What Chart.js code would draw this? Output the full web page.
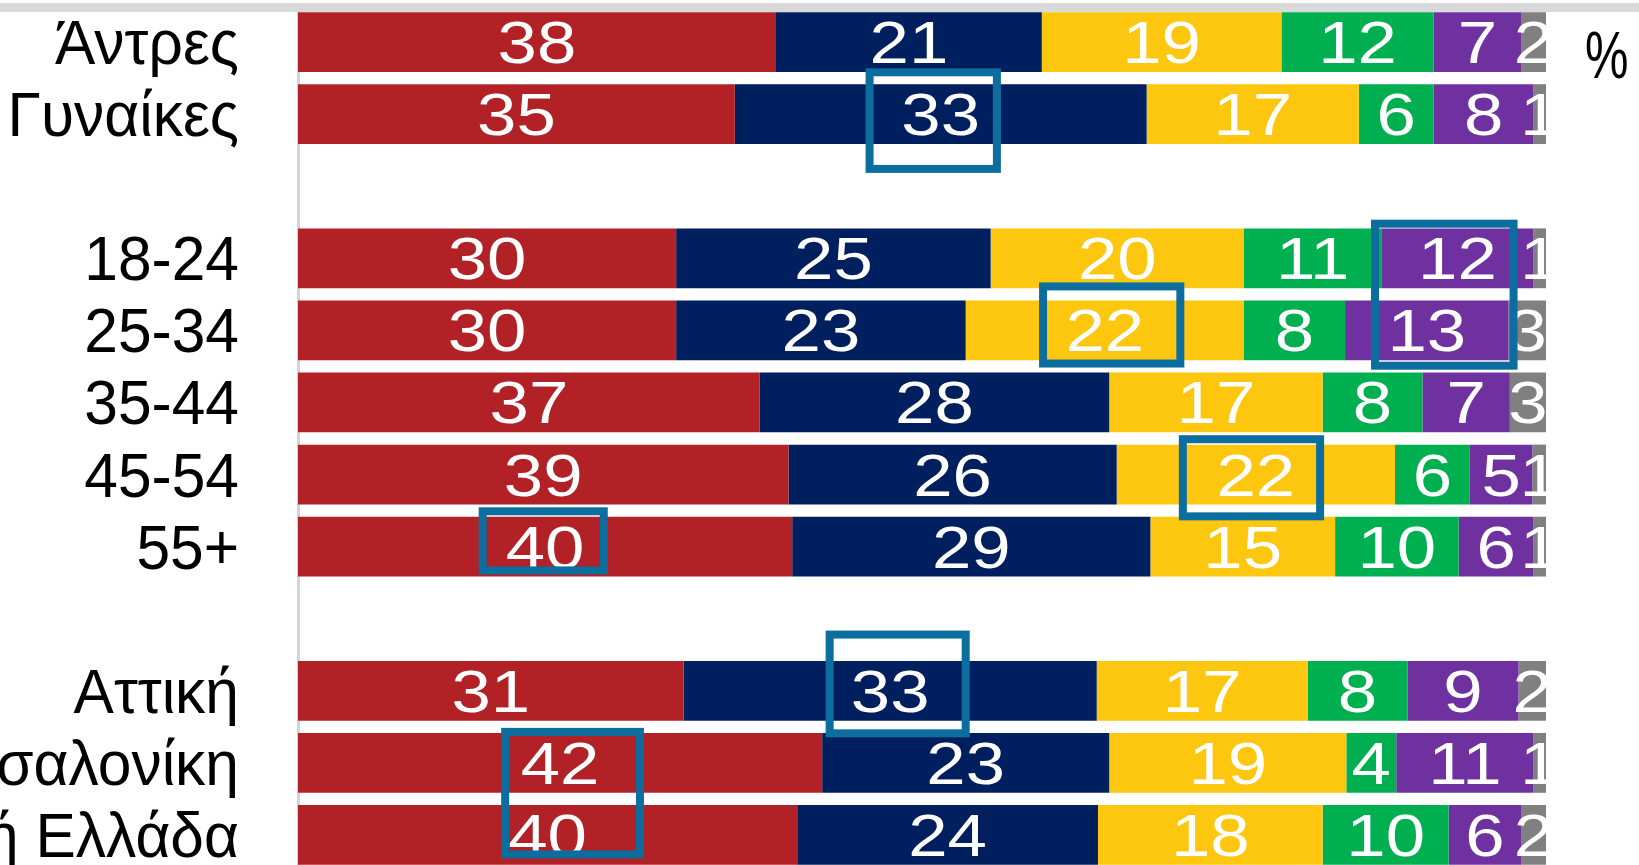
<!DOCTYPE html>
<html>
<head>
<meta charset="utf-8">
<script src="https://cdn.jsdelivr.net/npm/chart.js@4.4.0/dist/chart.umd.min.js"></script>
<style>
  html, body { margin: 0; padding: 0; overflow: hidden; background: #fff; }
  #wrap { position: relative; width: 1639px; height: 871px; }
  #topline { position: absolute; left: 0; top: 3px; width: 1639px; height: 9px; background: #d9d9d9; z-index: 2; }
  canvas { position: absolute; left: 0; top: 0; }
</style>
</head>
<body>
<div id="wrap">
  <div id="topline"></div>
  <canvas id="shares" width="1639" height="871"></canvas>
</div>
<script>
// rows of the chart, '' = empty spacer row
const categories = ["Άντρες", "Γυναίκες", "", "18-24", "25-34", "35-44", "45-54", "55+", "", "Αττική", "Θεσσαλονίκη", "Λοιπή Ελλάδα"];

// shares in % (bar widths, labels are rounded)
const red    = [38.3, 35.0, null, 30.3, 30.3, 37.0, 39.3, 39.6, null, 30.9, 42.0, 40.0];
const navy   = [21.3, 33.0, null, 25.2, 23.2, 28.0, 26.3, 28.7, null, 33.1, 23.0, 24.1];
const yellow = [19.2, 17.0, null, 20.3, 22.3, 17.1, 22.3, 14.8, null, 16.9, 19.0, 18.0];
const green  = [12.2, 6.0, null, 11.0, 8.1, 8.0, 6.0, 9.9, null, 8.0, 4.0, 10.1];
const purple = [7.0, 8.0, null, 12.2, 13.1, 7.0, 5.0, 6.0, null, 8.9, 11.0, 5.8];
const grey   = [2.0, 1.0, null, 1.0, 3.0, 2.9, 1.1, 1.0, null, 2.2, 1.0, 2.0];

const seriesColours = ["#B12126", "#001F5E", "#FDC70F", "#00AF50", "#7031A0", "#808080"];
const unitLabel = "%";

// highlight boxes: x in % of the axis, y in row index
const highlights = [
  { x0: 45.8, x1: 56.0, y0: 0.42, y1: 1.76 },
  { x0: 86.3, x1: 97.4, y0: 2.52, y1: 4.49 },
  { x0: 59.7, x1: 70.7, y0: 3.39, y1: 4.46 },
  { x0: 70.9, x1: 81.9, y0: 5.51, y1: 6.58 },
  { x0: 14.8, x1: 24.5, y0: 6.51, y1: 7.33 },
  { x0: 42.6, x1: 53.5, y0: 8.22, y1: 9.59 },
  { x0: 16.6, x1: 27.4, y0: 9.57, y1: 11.27 },
];

const numberFont = '60px "Liberation Sans", Arial, sans-serif';
const labelFont = '63px "Liberation Sans", Arial, sans-serif';

const barText = {
  id: "barText",
  afterDatasetsDraw(chart) {
    const { ctx, chartArea } = chart;
    ctx.save();
    ctx.beginPath();
    ctx.rect(chartArea.left, chartArea.top, chartArea.right - chartArea.left, chartArea.bottom - chartArea.top);
    ctx.clip();
    ctx.font = numberFont;
    ctx.fillStyle = "#fff";
    ctx.textAlign = "center";
    ctx.textBaseline = "alphabetic";
    chart.data.datasets.forEach((ds, i) => {
      chart.getDatasetMeta(i).data.forEach((bar, j) => {
        const v = ds.data[j];
        if (v === null) return;
        ctx.save();
        ctx.translate((bar.x + bar.base) / 2, bar.y + 21);
        ctx.scale(1.18, 1);
        ctx.fillText(Math.round(v), 0, 0);
        ctx.restore();
      });
    });
    ctx.restore();
  },
};

const rowLabels = {
  id: "rowLabels",
  afterDraw(chart) {
    const { ctx, chartArea, scales } = chart;
    ctx.save();
    ctx.font = labelFont;
    ctx.fillStyle = "#000";
    ctx.textAlign = "right";
    ctx.textBaseline = "alphabetic";
    categories.forEach((c, i) => {
      if (!c) return;
      ctx.save();
      ctx.translate(chartArea.left - 59, scales.y.getPixelForValue(i) + 22);
      ctx.scale(0.96, 1);
      ctx.fillText(c, 0, 0);
      ctx.restore();
    });
    // unit label top right
    ctx.save();
    ctx.font = '66px "Liberation Sans", Arial, sans-serif';
    ctx.textAlign = "left";
    ctx.translate(chartArea.right + 39, 78);
    ctx.scale(0.74, 1);
    ctx.fillText(unitLabel, 0, 0);
    ctx.restore();

    // highlight boxes
    ctx.strokeStyle = "#0B6E9E";
    ctx.lineWidth = 8;
    highlights.forEach((h) => {
      const x0 = scales.x.getPixelForValue(h.x0);
      const x1 = scales.x.getPixelForValue(h.x1);
      const y0 = scales.y.getPixelForValue(h.y0);
      const y1 = scales.y.getPixelForValue(h.y1);
      ctx.strokeRect(x0, y0, x1 - x0, y1 - y0);
    });
    ctx.restore();
  },
};

const series = [red, navy, yellow, green, purple, grey];

new Chart(document.getElementById("shares"), {
  type: "bar",
  data: {
    labels: categories,
    datasets: series.map((d, i) => ({
      label: "s" + (i + 1),
      data: d,
      backgroundColor: seriesColours[i],
      borderWidth: 0,
      barPercentage: 1,
      categoryPercentage: 0.83,
    })),
  },
  options: {
    indexAxis: "y",
    responsive: false,
    animation: false,
    devicePixelRatio: 1,
    layout: { padding: { top: 6, right: 93, bottom: 0, left: 0 } },
    plugins: { legend: { display: false }, tooltip: { enabled: false } },
    scales: {
      x: { stacked: true, min: 0, max: 100, display: false },
      y: {
        stacked: true,
        grid: { display: false },
        ticks: { display: false },
        border: { display: true, color: "#d4d4d4", width: 3 },
        afterFit(scale) {
          scale.width = 298;
        },
      },
    },
  },
  plugins: [barText, rowLabels],
});
</script>
</body>
</html>
